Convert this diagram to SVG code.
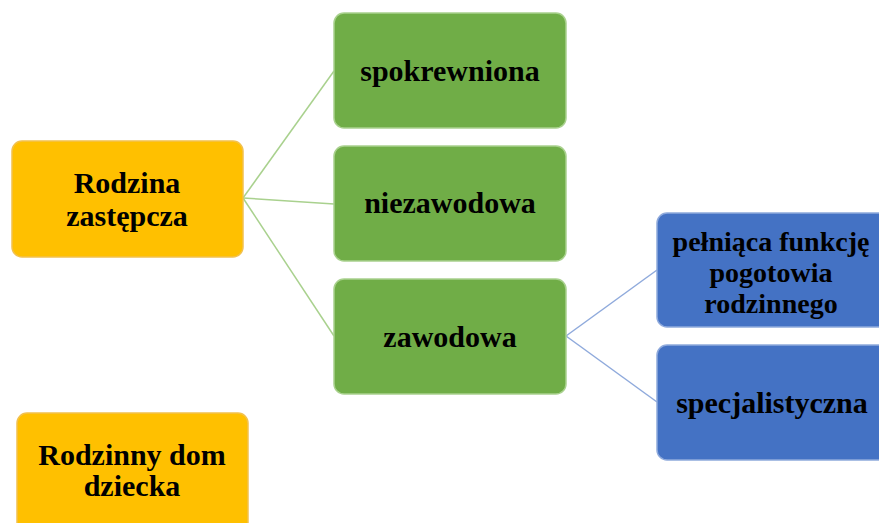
<svg xmlns="http://www.w3.org/2000/svg" width="879" height="523" viewBox="0 0 879 523">
<style>
.t{font-family:"Liberation Serif","Times New Roman",serif;font-weight:bold;font-size:30px;fill:#000;text-anchor:middle}
.s{font-size:28px}
.o{fill:#FFC000;stroke:#F2C14E;stroke-width:1.5}
.g{fill:#70AD47;stroke:#A9D18E;stroke-width:1.5}
.b{fill:#4472C4;stroke:#8FAADC;stroke-width:1.5}
.cg{stroke:#A9D18E;stroke-width:1.5;fill:none}
.cb{stroke:#8FAADC;stroke-width:1.5;fill:none}
</style>
<rect width="879" height="523" fill="#fff"/>
<g id="connectors">
<line class="cg" x1="243" y1="198" x2="334" y2="71"/>
<line class="cg" x1="243" y1="198" x2="334" y2="204"/>
<line class="cg" x1="243" y1="198" x2="334" y2="336"/>
<line class="cb" x1="566" y1="336" x2="657" y2="270"/>
<line class="cb" x1="566" y1="336" x2="657" y2="402"/>
</g>
<g id="rodzina-zastepcza">
<rect class="o" x="12" y="141" width="231" height="116" rx="10"/>
<text class="t" x="127" y="193">Rodzina</text>
<text class="t" x="127" y="226">zastępcza</text>
</g>
<g id="rodzinny-dom-dziecka">
<rect class="o" x="17" y="413" width="231" height="125" rx="10"/>
<text class="t" x="132" y="465">Rodzinny dom</text>
<text class="t" x="132" y="496">dziecka</text>
</g>
<g id="spokrewniona">
<rect class="g" x="334" y="13" width="232" height="115" rx="10"/>
<text class="t" x="450" y="81">spokrewniona</text>
</g>
<g id="niezawodowa">
<rect class="g" x="334" y="146" width="232" height="115" rx="10"/>
<text class="t" x="450" y="213">niezawodowa</text>
</g>
<g id="zawodowa">
<rect class="g" x="334" y="279" width="232" height="115" rx="10"/>
<text class="t" x="450" y="347">zawodowa</text>
</g>
<g id="pogotowie">
<rect class="b" x="657" y="213" width="232" height="114" rx="10"/>
<text class="t s" x="771" y="251">pełniąca funkcję</text>
<text class="t s" x="771" y="282">pogotowia</text>
<text class="t s" x="771" y="313">rodzinnego</text>
</g>
<g id="specjalistyczna">
<rect class="b" x="657" y="345" width="232" height="115" rx="10"/>
<text class="t" x="772" y="413">specjalistyczna</text>
</g>
</svg>
